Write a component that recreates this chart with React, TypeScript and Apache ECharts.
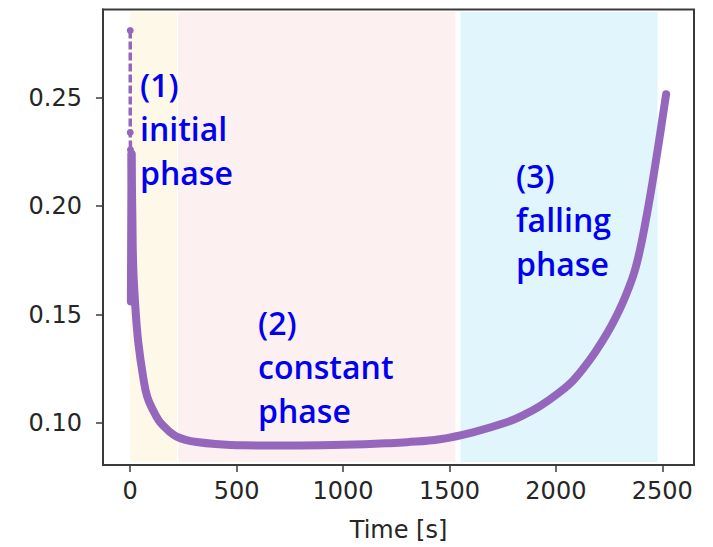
import React, { useEffect, useRef } from "react";
import * as echarts from "echarts";

// Time [s] and value of the noisy start band
const bandTime = [3, 6];
const bandValue = [0.156, 0.224];

// Time [s] and value of the main (thick) curve
const mainTime = [6, 10, 14, 25, 38, 61, 80, 108, 135, 163, 190, 218, 260, 312, 400, 530, 700, 900, 1000, 1200, 1300, 1455, 1610, 1769, 1845, 1925, 2004, 2080, 2160, 2207, 2268, 2325, 2376, 2427, 2474, 2518];
const mainValue = [0.224, 0.195, 0.172, 0.152, 0.137, 0.121, 0.112, 0.1057, 0.101, 0.098, 0.0955, 0.0937, 0.0922, 0.0912, 0.0903, 0.0897, 0.0896, 0.0897, 0.0899, 0.0906, 0.0911, 0.0925, 0.0957, 0.1003, 0.1035, 0.1078, 0.1132, 0.1195, 0.1292, 0.136, 0.1462, 0.158, 0.172, 0.1958, 0.2233, 0.2516];

// initial dashed samples
const initTime = [0, 0, 1];
const initValue = [0.281, 0.234, 0.226];

// phase spans [start, end] in seconds
const phaseSpans = [
  [0, 220],
  [225, 1528],
  [1552, 2478],
];
const phaseColors = ["#FEF8E8", "#FDF0F0", "#E0F6FC"];
const phaseLabels = ["(1)\ninitial\nphase", "(2)\nconstant\nphase", "(3)\nfalling\nphase"];

const xTicks = [0, 500, 1000, 1500, 2000, 2500];
const yTicks = [0.1, 0.15, 0.2, 0.25];

export default function App() {
  const ref = useRef<HTMLDivElement>(null);
  useEffect(() => {
    if (!ref.current) return;
    const chart = echarts.init(ref.current, undefined, { renderer: "svg" });
    const axisFont = { fontFamily: "DejaVu Sans", fontSize: 24, color: "#262626" };
    const textPos = [
      [140, 62],
      [258, 300],
      [516, 153],
    ];
    const purple = "#9467bd";
    chart.setOption({
      animation: false,
      grid: {
        left: 103,
        right: 19,
        top: 9.5,
        bottom: 79,
        show: true,
        borderColor: "#3a3a3a",
        borderWidth: 2,
        backgroundColor: "#fff",
      },
      xAxis: {
        type: "value",
        min: -128,
        max: 2649,
        name: "Time [s]",
        nameLocation: "middle",
        nameGap: 53,
        nameTextStyle: axisFont,
        axisLine: { show: true, onZero: false, lineStyle: { color: "#3a3a3a", width: 2 } },
        axisTick: { show: true, length: 7, customValues: xTicks, lineStyle: { color: "#3a3a3a", width: 1.5 } },
        axisLabel: { ...axisFont, margin: 14, customValues: xTicks, formatter: (v: number) => String(v) },
        splitLine: { show: false },
      },
      yAxis: {
        type: "value",
        min: 0.0806,
        max: 0.2907,
        axisLine: { show: true, onZero: false, lineStyle: { color: "#3a3a3a", width: 2 } },
        axisTick: { show: true, length: 7, customValues: yTicks, lineStyle: { color: "#3a3a3a", width: 1.5 } },
        axisLabel: { ...axisFont, margin: 21, customValues: yTicks, formatter: (v: number) => v.toFixed(2) },
        splitLine: { show: false },
      },
      series: [
        {
          type: "line",
          data: [],
          silent: true,
          markArea: {
            silent: true,
            data: phaseSpans.map((s, i) => [
              { xAxis: s[0], yAxis: 0.082, itemStyle: { color: phaseColors[i] } },
              { xAxis: s[1], yAxis: 0.2895 },
            ]),
          },
        },
        {
          type: "line",
          data: initTime.map((t, i) => [t, initValue[i]]),
          showSymbol: true,
          symbol: "circle",
          symbolSize: 7,
          itemStyle: { color: purple },
          lineStyle: { color: purple, width: 3.5, type: [8, 3] },
        },
        {
          type: "line",
          data: bandTime.map((t, i) => [t, bandValue[i]]),
          showSymbol: false,
          lineStyle: { color: purple, width: 8, cap: "round" },
          itemStyle: { color: purple },
        },
        {
          type: "line",
          data: mainTime.map((t, i) => [t, mainValue[i]]),
          showSymbol: false,
          smooth: 0.4,
          lineStyle: { color: purple, width: 8, cap: "round", join: "round" },
          itemStyle: { color: purple },
        },
      ],
      graphic: phaseLabels.map((txt, i) => ({
        type: "text",
        x: textPos[i][0],
        y: textPos[i][1],
        z: 100,
        style: {
          text: txt,
          fontFamily: "Open Sans",
          fontSize: 32,
          fontWeight: 600,
          lineHeight: 44,
          fill: "#0000f0",
          verticalAlign: "top",
        },
      })),
    });
    return () => chart.dispose();
  }, []);
  return <div ref={ref} style={{ width: 713, height: 547, position: "absolute", left: 0, top: 0 }} />;
}
